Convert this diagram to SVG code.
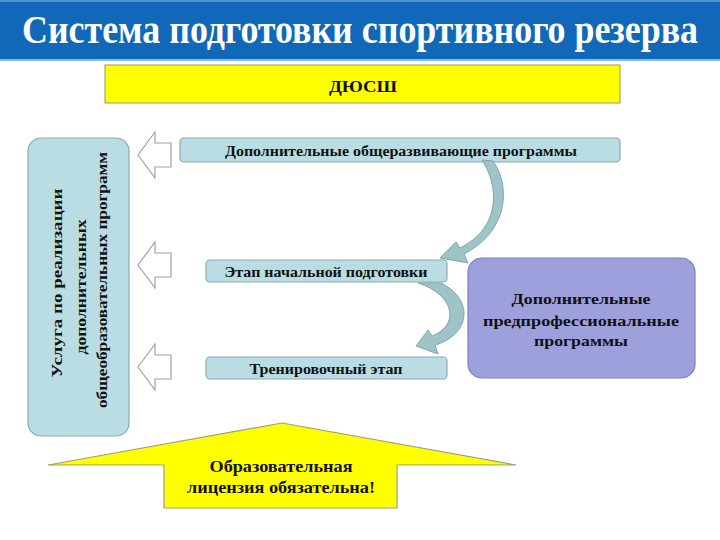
<svg xmlns="http://www.w3.org/2000/svg" width="720" height="540" viewBox="0 0 720 540">
<defs>
<style>
.t{font-family:"Liberation Serif","DejaVu Serif","Noto Serif",serif;fill:#111;font-weight:bold;}
.box{fill:#b9dde2;stroke:#8fa9ae;stroke-width:1.2;}
.hollow{fill:#fff;stroke:#9ba2a6;stroke-width:1.2;}
.curve{fill:#9fc4c8;stroke:#7fa5aa;stroke-width:1;}
</style>
</defs>
<rect width="720" height="540" fill="#fff"/>
<g id="title">
<rect x="0" y="0" width="720" height="59" fill="#1168b8"/>
<rect x="0" y="0" width="720" height="2" fill="#4a8fd0"/>
<rect x="0" y="59" width="720" height="2" fill="#8ab8e0"/>
<text transform="translate(360,43) scale(1,1.12)" x="0" y="0" text-anchor="middle" font-weight="bold" font-family="Liberation Serif, DejaVu Serif, serif" font-size="35" fill="#fff" textLength="676" lengthAdjust="spacingAndGlyphs">Система подготовки спортивного резерва</text>
</g>
<g id="dussh">
<rect x="105" y="65" width="515" height="38" fill="#ffff00" stroke="#a8a878" stroke-width="1.2"/>
<text x="363" y="92" text-anchor="middle" class="t" font-size="16" textLength="68" lengthAdjust="spacingAndGlyphs">ДЮСШ</text>
</g>
<g id="service">
<rect x="28" y="138" width="101" height="298" rx="13" class="box"/>
<text transform="translate(62,283) rotate(-90)" text-anchor="middle" class="t" font-size="15" textLength="189" lengthAdjust="spacingAndGlyphs">Услуга по реализации</text>
<text transform="translate(86,287) rotate(-90)" text-anchor="middle" class="t" font-size="15" textLength="135" lengthAdjust="spacingAndGlyphs">дополнительных</text>
<text transform="translate(107,280) rotate(-90)" text-anchor="middle" class="t" font-size="15" textLength="256" lengthAdjust="spacingAndGlyphs">общеобразовательных программ</text>
</g>
<g id="general">
<rect x="180" y="138" width="440" height="24" rx="4" class="box"/>
<text x="401" y="156" text-anchor="middle" class="t" font-size="14" textLength="352" lengthAdjust="spacingAndGlyphs">Дополнительные общеразвивающие программы</text>
</g>
<g id="initial">
<rect x="206" y="260" width="241" height="22" rx="4" class="box"/>
<text x="326" y="277" text-anchor="middle" class="t" font-size="14" textLength="203" lengthAdjust="spacingAndGlyphs">Этап начальной подготовки</text>
</g>
<g id="training">
<rect x="206" y="357" width="241" height="22" rx="4" class="box"/>
<text x="326" y="374" text-anchor="middle" class="t" font-size="14" textLength="153" lengthAdjust="spacingAndGlyphs">Тренировочный этап</text>
</g>
<g id="preprof">
<rect x="468" y="258" width="227" height="120" rx="14" fill="#9ea0dc" stroke="#7c80c4" stroke-width="1.2"/>
<text x="581" y="304" text-anchor="middle" class="t" font-size="15" textLength="139" lengthAdjust="spacingAndGlyphs">Дополнительные</text>
<text x="581" y="326" text-anchor="middle" class="t" font-size="15" textLength="196" lengthAdjust="spacingAndGlyphs">предпрофессиональные</text>
<text x="581" y="346" text-anchor="middle" class="t" font-size="15" textLength="94" lengthAdjust="spacingAndGlyphs">программы</text>
</g>
<g id="license">
<polygon points="282,423 516,465 397,465 397,508 164,508 164,465 48,465" fill="#ffff00" stroke="#a0a07a" stroke-width="1.2"/>
<text x="281" y="472" text-anchor="middle" class="t" font-size="16" textLength="143" lengthAdjust="spacingAndGlyphs">Образовательная</text>
<text x="281" y="493" text-anchor="middle" class="t" font-size="16" textLength="188" lengthAdjust="spacingAndGlyphs">лицензия обязательна!</text>
</g>
<g id="connectors">
<polygon points="138,155 155,132 155,143 171,143 171,167 155,167 155,178" class="hollow"/>
<polygon points="138,265 155,242 155,253 171,253 171,277 155,277 155,288" class="hollow"/>
<polygon points="138,367 155,344 155,355 171,355 171,379 155,379 155,390" class="hollow"/>
<path d="M 482,160 L 493,161 C 510,185 510,230 464,254 L 468,263 L 440,258 L 456,242 L 460,248 C 500,228 500,188 482,160 Z" class="curve"/>
<path d="M 418,283 L 441,283 C 475,300 470,335 435,345 L 438,354 L 416,346 L 428,330 L 432,336 C 460,325 455,295 418,283 Z" class="curve"/>
</g>
</svg>
